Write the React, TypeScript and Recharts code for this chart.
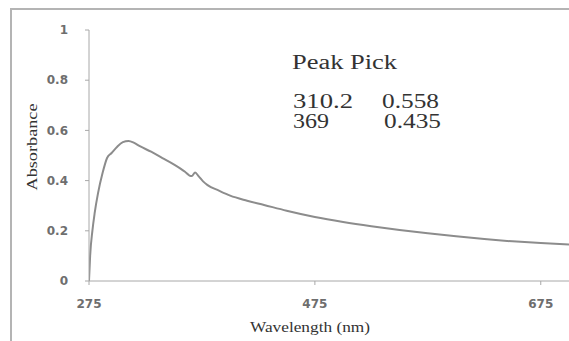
import { LineChart, Line, XAxis, YAxis, Customized } from 'recharts';

// wavelength (nm) and absorbance
const wavelengths = [
  275, 276, 278, 280, 283, 287, 291, 295, 300, 305, 310, 315, 320, 330, 340, 350, 360, 364, 366, 369,
  372, 376, 380, 390, 400, 415, 430, 450, 475, 500, 525, 550, 575, 600, 625, 650, 675, 700,
];
const absorbance = [
  0.0, 0.1, 0.2, 0.27, 0.35, 0.43, 0.49, 0.51, 0.535, 0.553, 0.558, 0.55, 0.537, 0.515, 0.49, 0.465, 0.435, 0.42, 0.418, 0.432,
  0.418, 0.397, 0.382, 0.36, 0.34, 0.32, 0.303, 0.28, 0.255, 0.235, 0.218, 0.203, 0.19, 0.178, 0.167, 0.158, 0.151, 0.145,
];

const xTicks = [275, 475, 675];
const yTicks = [0, 0.2, 0.4, 0.6, 0.8, 1];

const peakTitle = 'Peak Pick';
const peakWavelengths = ['310.2', '369'];
const peakValues = ['0.558', '0.435'];

const data = wavelengths.map((w, i) => ({ wl: w, abs: absorbance[i] }));

const serif = '"Liberation Serif", "DejaVu Serif", serif';
const tickStyle = { fontFamily: '"DejaVu Sans", sans-serif', fontSize: 12, fontWeight: 'bold' as const, fill: '#6e6e6e' };

function Annotations() {
  return (
    <g fontFamily={serif} fill="#333">
      <text x={292} y={69} fontSize={20} textLength={105} lengthAdjust="spacingAndGlyphs">{peakTitle}</text>
      {peakWavelengths.map((w, i) => (
        <text key={'w' + i} x={293} y={108 + i * 20} fontSize={20} textLength={w.length * 12} lengthAdjust="spacingAndGlyphs">{w}</text>
      ))}
      {peakValues.map((v, i) => (
        <text key={'v' + i} x={382 + i * 2} y={108 + i * 20} fontSize={20} textLength={57} lengthAdjust="spacingAndGlyphs">{v}</text>
      ))}
      <text x={32} y={147} fontSize={14} textAnchor="middle" dominantBaseline="central" transform="rotate(-90 32 147)" textLength={87} lengthAdjust="spacingAndGlyphs">Absorbance</text>
      <text x={310} y={332} fontSize={14} textAnchor="middle" textLength={120} lengthAdjust="spacingAndGlyphs">Wavelength (nm)</text>
    </g>
  );
}

export default function App() {
  return (
    <div style={{ position: 'fixed', left: 0, top: 0, width: 569, height: 341, overflow: 'hidden', background: '#fff' }}>
      <div style={{ position: 'absolute', left: 10, top: 8, width: 620, height: 400, border: '2px solid #b4b4b4' }} />
      <div style={{ position: 'absolute', left: 0, top: 0 }}>
        <LineChart width={569} height={341} data={data} margin={{ top: 30, right: 0, bottom: 30, left: 29 }}>
          <XAxis
            dataKey="wl"
            type="number"
            domain={[275, 700]}
            ticks={xTicks}
            height={30}
            tickSize={4}
            tickMargin={14}
            tick={tickStyle}
            stroke="#a8a8a8"
            allowDataOverflow
          />
          <YAxis
            type="number"
            domain={[0, 1]}
            ticks={yTicks}
            width={60}
            tickSize={4}
            tickMargin={17}
            tick={tickStyle}
            stroke="#a8a8a8"
          />
          <Line
            type="monotone"
            dataKey="abs"
            stroke="#8c8c8c"
            strokeWidth={2}
            dot={false}
            isAnimationActive={false}
          />
          <Customized component={Annotations} />
        </LineChart>
      </div>
    </div>
  );
}
